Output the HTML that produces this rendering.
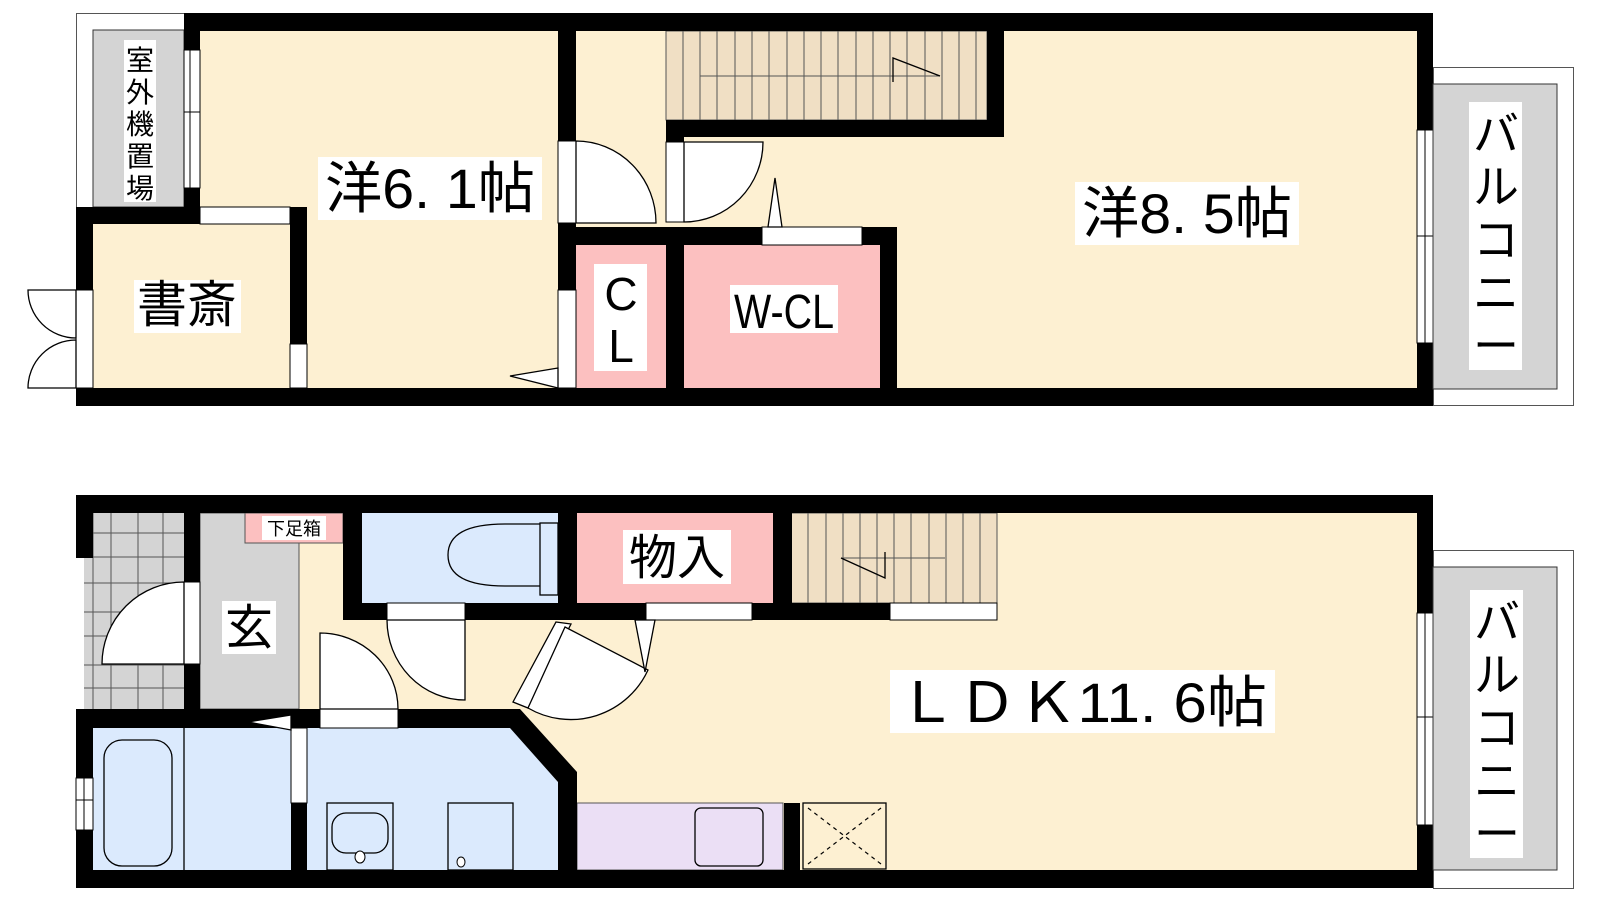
<!DOCTYPE html>
<html><head><meta charset="utf-8"><style>
html,body{margin:0;padding:0;background:#fff;}
svg{display:block;}
text{font-family:"Liberation Sans","Noto Sans CJK JP",sans-serif;fill:#000;}
</style></head><body>
<svg width="1600" height="900" viewBox="0 0 1600 900" xmlns="http://www.w3.org/2000/svg">
<!-- ============ UPPER FLOOR ============ -->
<rect x="76.5" y="13.5" width="108" height="200" fill="#fff" stroke="#555" stroke-width="1"/>
<rect x="93" y="30" width="91" height="177" fill="#d4d4d4" stroke="#333" stroke-width="1"/>
<rect x="124" y="40" width="32" height="162" fill="#fff"/>
<text x="140" y="70" font-size="28" text-anchor="middle">室</text>
<text x="140" y="102" font-size="28" text-anchor="middle">外</text>
<text x="140" y="134" font-size="28" text-anchor="middle">機</text>
<text x="140" y="166" font-size="28" text-anchor="middle">置</text>
<text x="140" y="198" font-size="28" text-anchor="middle">場</text>
<rect x="200" y="31" width="1217" height="357" fill="#fdf0d2"/>
<rect x="93" y="224" width="197" height="164" fill="#fdf0d2"/>
<rect x="666" y="31" width="321" height="89" fill="#f0dfc4" stroke="#555" stroke-width="1"/>
<g stroke="#555" stroke-width="1">
<line x1="683" y1="31" x2="683" y2="120"/><line x1="700" y1="31" x2="700" y2="120"/><line x1="717" y1="31" x2="717" y2="120"/><line x1="735" y1="31" x2="735" y2="120"/><line x1="752" y1="31" x2="752" y2="120"/><line x1="769" y1="31" x2="769" y2="120"/><line x1="787" y1="31" x2="787" y2="120"/><line x1="804" y1="31" x2="804" y2="120"/><line x1="821" y1="31" x2="821" y2="120"/><line x1="838" y1="31" x2="838" y2="120"/><line x1="856" y1="31" x2="856" y2="120"/><line x1="873" y1="31" x2="873" y2="120"/><line x1="890" y1="31" x2="890" y2="120"/><line x1="907" y1="31" x2="907" y2="120"/><line x1="925" y1="31" x2="925" y2="120"/><line x1="942" y1="31" x2="942" y2="120"/><line x1="959" y1="31" x2="959" y2="120"/><line x1="976" y1="31" x2="976" y2="120"/>
<line x1="700" y1="76" x2="940" y2="76"/>
</g>
<polyline points="893,82 893,58 940,76" fill="none" stroke="#000" stroke-width="1.3"/>
<rect x="576" y="245" width="90" height="143" fill="#fcc0c0"/>
<rect x="684" y="245" width="196" height="143" fill="#fcc0c0"/>
<g fill="#000">
<rect x="184" y="13" width="1249" height="18"/>
<rect x="76" y="388" width="1357" height="18"/>
<rect x="1417" y="13" width="16" height="117"/>
<rect x="1417" y="343" width="16" height="63"/>
<rect x="184" y="13" width="16" height="37"/>
<rect x="184" y="188" width="16" height="36"/>
<rect x="76" y="207" width="124" height="17"/>
<rect x="290" y="207" width="17" height="137"/>
<rect x="76" y="207" width="17" height="83"/>
<rect x="558" y="31" width="18" height="110"/>
<rect x="558" y="223" width="18" height="67"/>
<rect x="558" y="227" width="204" height="18"/>
<rect x="666" y="227" width="18" height="161"/>
<rect x="666" y="120" width="338" height="17"/>
<rect x="666" y="120" width="18" height="22"/>
<rect x="987" y="31" width="17" height="106"/>
<rect x="862" y="227" width="35" height="18"/>
<rect x="880" y="227" width="17" height="161"/>
</g>
<g fill="#fff" stroke="#000" stroke-width="1">
<rect x="184" y="50" width="16" height="138"/>
<rect x="200" y="207" width="90" height="17"/>
<rect x="290" y="344" width="17" height="44"/>
<rect x="76" y="290" width="17" height="98"/>
<rect x="558" y="290" width="18" height="98"/>
<rect x="558" y="141" width="18" height="82"/>
<rect x="666" y="142" width="18" height="80"/>
<rect x="762" y="227" width="100" height="18"/>
<rect x="1417" y="130" width="16" height="213"/>
</g>
<line x1="190" y1="50" x2="190" y2="188" stroke="#000" stroke-width="1"/>
<line x1="1425" y1="130" x2="1425" y2="343" stroke="#000" stroke-width="1"/>
<line x1="184" y1="112" x2="200" y2="112" stroke="#000"/><line x1="1417" y1="236" x2="1433" y2="236" stroke="#000"/>
<path d="M576,141 A80,82 0 0 1 656,223 L576,223 Z" fill="#fff" stroke="#000" stroke-width="1.3"/>
<path d="M684,142 L763,142 A79,80 0 0 1 684,222 Z" fill="#fff" stroke="#000" stroke-width="1.3"/>
<path d="M76,290 L28,290 A48,48 0 0 0 76,338 Z" fill="#fff" stroke="#000" stroke-width="1.3"/>
<path d="M76,388 L28,388 A48,48 0 0 1 76,340 Z" fill="#fff" stroke="#000" stroke-width="1.3"/>
<polygon points="775,178 768,227 782,227" fill="#fff" stroke="#000" stroke-width="1.3"/>
<polygon points="558,368 510,376 558,388" fill="#fff" stroke="#000" stroke-width="1.3"/>
<rect x="1433.5" y="67.5" width="140" height="338" fill="#fff" stroke="#555" stroke-width="1"/>
<rect x="1433" y="84" width="124" height="305" fill="#d4d4d4" stroke="#333" stroke-width="1"/>
<rect x="1469" y="102" width="53" height="268" fill="#fff"/>
<text x="1496" y="150" font-size="46" text-anchor="middle">バ</text>
<text x="1496" y="203" font-size="46" text-anchor="middle">ル</text>
<text x="1496" y="256" font-size="46" text-anchor="middle">コ</text>
<text x="1496" y="309" font-size="46" text-anchor="middle">ニ</text>
<text x="1496" y="362" font-size="46" text-anchor="middle">ー</text>
<rect x="318" y="157" width="224" height="63" fill="#fff"/>
<text x="430" y="208" font-size="56" text-anchor="middle" textLength="210" lengthAdjust="spacingAndGlyphs">洋6. 1帖</text>
<rect x="1075" y="182" width="224" height="63" fill="#fff"/>
<text x="1187" y="233" font-size="56" text-anchor="middle" textLength="210" lengthAdjust="spacingAndGlyphs">洋8. 5帖</text>
<rect x="134" y="280" width="107" height="53" fill="#fff"/>
<text x="187" y="322" font-size="50" text-anchor="middle">書斎</text>
<rect x="594" y="264" width="53" height="107" fill="#fff"/>
<text x="621" y="310" font-size="46" text-anchor="middle">C</text>
<text x="621" y="362" font-size="46" text-anchor="middle">L</text>
<rect x="730" y="285" width="108" height="48" fill="#fff"/>
<text x="784" y="328" font-size="48" text-anchor="middle" textLength="100" lengthAdjust="spacingAndGlyphs">W-CL</text>

<!-- ============ LOWER FLOOR ============ -->
<rect x="299" y="513" width="1118" height="357" fill="#fdf0d2"/>
<rect x="84" y="513" width="100" height="196" fill="#d4d4d4"/>
<g stroke="#555" stroke-width="1">
<line x1="93" y1="513" x2="93" y2="709"/><line x1="111" y1="513" x2="111" y2="709"/><line x1="138" y1="513" x2="138" y2="709"/><line x1="163" y1="513" x2="163" y2="709"/>
<line x1="84" y1="533" x2="184" y2="533"/><line x1="84" y1="557" x2="184" y2="557"/><line x1="84" y1="583" x2="184" y2="583"/><line x1="84" y1="612" x2="184" y2="612"/><line x1="84" y1="636" x2="184" y2="636"/><line x1="84" y1="665" x2="184" y2="665"/><line x1="84" y1="688" x2="184" y2="688"/>
</g>
<rect x="200" y="513" width="99" height="196" fill="#d4d4d4" stroke="#555" stroke-width="1"/>
<rect x="245" y="513" width="98" height="30" fill="#fcc0c0" stroke="#555" stroke-width="1"/>
<rect x="262" y="516" width="64" height="24" fill="#fff"/>
<text x="294" y="535" font-size="18" text-anchor="middle">下足箱</text>
<rect x="362" y="513" width="196" height="90" fill="#dbeafd"/>
<path d="M540,524 L505,524 Q448,524 448,555 Q448,586 505,586 L540,586" fill="none" stroke="#000" stroke-width="1.3"/>
<rect x="540" y="523" width="18" height="72" fill="#dbeafd" stroke="#000" stroke-width="1.3"/>
<rect x="577" y="513" width="196" height="90" fill="#fcc0c0"/>
<rect x="791" y="513" width="206" height="90" fill="#f0dfc4" stroke="#555" stroke-width="1"/>
<g stroke="#555" stroke-width="1">
<line x1="808" y1="513" x2="808" y2="603"/><line x1="826" y1="513" x2="826" y2="603"/><line x1="843" y1="513" x2="843" y2="603"/><line x1="860" y1="513" x2="860" y2="603"/><line x1="877" y1="513" x2="877" y2="603"/><line x1="894" y1="513" x2="894" y2="603"/><line x1="911" y1="513" x2="911" y2="603"/><line x1="929" y1="513" x2="929" y2="603"/><line x1="946" y1="513" x2="946" y2="603"/><line x1="963" y1="513" x2="963" y2="603"/><line x1="980" y1="513" x2="980" y2="603"/>
<line x1="841" y1="558" x2="945" y2="558"/>
</g>
<polyline points="841,558 885,578 885,552" fill="none" stroke="#000" stroke-width="1.3"/>
<rect x="93" y="728" width="198" height="142" fill="#dbeafd"/>
<polygon points="307,728 512,728 558,782 558,870 307,870" fill="#dbeafd"/>
<line x1="184" y1="728" x2="184" y2="870" stroke="#000" stroke-width="1.3"/>
<rect x="104" y="740" width="68" height="126" rx="18" fill="#dbeafd" stroke="#000" stroke-width="1.3"/>
<rect x="327" y="803" width="66" height="67" fill="#dbeafd" stroke="#000" stroke-width="1.3"/>
<rect x="332" y="813" width="56" height="40" rx="14" fill="#dbeafd" stroke="#000" stroke-width="1.3"/>
<ellipse cx="360" cy="857" rx="5" ry="6" fill="#fff" stroke="#000"/>
<rect x="448" y="803" width="65" height="67" fill="#dbeafd" stroke="#000" stroke-width="1.3"/>
<ellipse cx="461" cy="862" rx="4" ry="5" fill="#fff" stroke="#000"/>
<rect x="577" y="803" width="206" height="67" fill="#ebdff5" stroke="#555" stroke-width="1"/>
<rect x="695" y="808" width="68" height="58" rx="6" fill="#ebdff5" stroke="#000" stroke-width="1.3"/>
<rect x="803" y="803" width="83" height="66" fill="#fdf0d2" stroke="#000" stroke-width="1.3"/>
<g stroke="#000" stroke-width="1.2" stroke-dasharray="4,4"><line x1="808" y1="808" x2="881" y2="864"/><line x1="881" y1="808" x2="808" y2="864"/></g>
<g fill="#000">
<rect x="76" y="495" width="1357" height="18"/>
<rect x="76" y="870" width="1357" height="18"/>
<rect x="76" y="495" width="17" height="63"/>
<rect x="184" y="495" width="16" height="87"/>
<rect x="184" y="664" width="16" height="45"/>
<rect x="343" y="495" width="19" height="125"/>
<rect x="343" y="603" width="234" height="17"/>
<rect x="558" y="495" width="19" height="125"/>
<rect x="558" y="603" width="234" height="17"/>
<rect x="773" y="495" width="19" height="125"/>
<rect x="773" y="603" width="117" height="17"/>
<rect x="76" y="709" width="434" height="19"/>
<polygon points="499,709 520,709 577,772 577,870 558,870 558,782 510,728"/>
<rect x="76" y="709" width="17" height="69"/>
<rect x="76" y="830" width="17" height="58"/>
<rect x="291" y="803" width="16" height="67"/>
<rect x="784" y="803" width="16" height="67"/>
<rect x="1417" y="495" width="16" height="118"/>
<rect x="1417" y="825" width="16" height="63"/>
</g>
<g fill="#fff" stroke="#000" stroke-width="1">
<rect x="184" y="582" width="16" height="82"/>
<rect x="387" y="603" width="78" height="17"/>
<rect x="646" y="603" width="106" height="17"/>
<rect x="890" y="603" width="107" height="17"/>
<rect x="320" y="709" width="78" height="19"/>
<rect x="291" y="728" width="16" height="75"/>
<rect x="76" y="778" width="17" height="52"/>
<rect x="1417" y="613" width="16" height="212"/>
</g>
<line x1="84" y1="778" x2="84" y2="830" stroke="#000"/><line x1="76" y1="800" x2="93" y2="800" stroke="#000"/>
<line x1="1425" y1="613" x2="1425" y2="825" stroke="#000"/><line x1="1417" y1="717" x2="1433" y2="717" stroke="#000"/>
<path d="M184,582 A82,82 0 0 0 102,664 L184,664 Z" fill="#fff" stroke="#000" stroke-width="1.3"/>
<path d="M465,620 L465,700 A78,80 0 0 1 387,620 Z" fill="#fff" stroke="#000" stroke-width="1.3"/>
<path d="M320,633 L320,709 L398,709 A78,76 0 0 0 320,633 Z" fill="#fff" stroke="#000" stroke-width="1.3"/>
<polygon points="556,622 571,624 528,708 513,702" fill="#fff" stroke="#000" stroke-width="1.3"/>
<path d="M565,627 L648,670 A85,85 0 0 1 528,708 Z" fill="#fff" stroke="#000" stroke-width="1.3"/>
<polygon points="635,620 655,620 645,672" fill="#fff" stroke="#000" stroke-width="1.3"/>
<polygon points="291,715 248,722 291,730" fill="#fff" stroke="#000" stroke-width="1.3"/>
<rect x="1433.5" y="550.5" width="140" height="338" fill="#fff" stroke="#555" stroke-width="1"/>
<rect x="1433" y="567" width="124" height="303" fill="#d4d4d4" stroke="#333" stroke-width="1"/>
<rect x="1470" y="590" width="53" height="268" fill="#fff"/>
<text x="1497" y="638" font-size="46" text-anchor="middle">バ</text>
<text x="1497" y="691" font-size="46" text-anchor="middle">ル</text>
<text x="1497" y="744" font-size="46" text-anchor="middle">コ</text>
<text x="1497" y="797" font-size="46" text-anchor="middle">ニ</text>
<text x="1497" y="850" font-size="46" text-anchor="middle">ー</text>
<rect x="222" y="601" width="54" height="53" fill="#fff"/>
<text x="249" y="644" font-size="48" text-anchor="middle">玄</text>
<rect x="623" y="530" width="108" height="54" fill="#fff"/>
<text x="677" y="574" font-size="48" text-anchor="middle">物入</text>
<rect x="890" y="670" width="385" height="63" fill="#fff"/>
<text x="1082" y="722" font-size="56" text-anchor="middle" textLength="370" lengthAdjust="spacingAndGlyphs">ＬＤＫ11. 6帖</text>
</svg>
</body></html>
